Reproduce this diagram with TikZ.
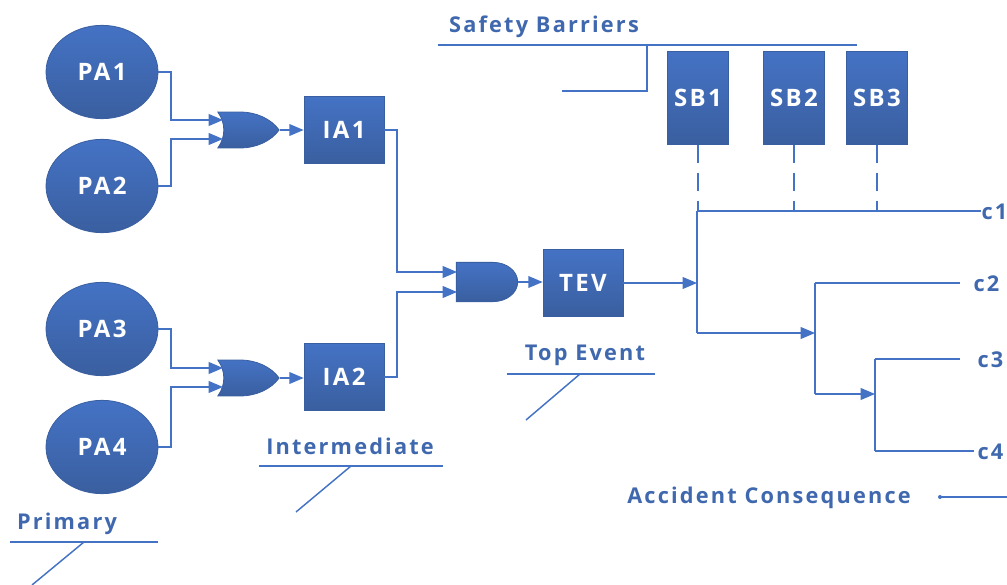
\documentclass[tikz,border=0pt]{standalone}
\usepackage{fontspec}
\setmainfont{Open Sans}[LetterSpace=10]
\usetikzlibrary{arrows,shapes.geometric,shapes.gates.logic.US}
\definecolor{linkblue}{HTML}{4472C4}
\definecolor{fillblue}{HTML}{3F6AB5}
\definecolor{darkblue}{HTML}{3A5FA0}
\definecolor{textblue}{HTML}{3F68AE}
\begin{document}
\begin{tikzpicture}[x=0.75pt,y=-0.75pt,>=triangle 45,thick,
    filled node/.style={draw=darkblue,line width=0.6pt,top color=linkblue,bottom color=darkblue,
      text=white,font=\fontsize{18}{20}\selectfont\bfseries,inner sep=0pt},
    event node/.style={filled node,ellipse,minimum width=84pt,minimum height=70pt},
    act node/.style={filled node,rectangle,minimum width=60pt,minimum height=50pt},
    barrier node/.style={filled node,rectangle,minimum width=46pt,minimum height=70pt},
    gate node/.style={filled node,logic gate inputs=nn,
      minimum height=30pt,minimum width=46pt,yscale=0.8,transform shape},
    link/.style={draw=linkblue,line width=1.5pt},
    arrow link/.style={link,->},
    note/.style={text=textblue,font=\fontsize{16.3}{18}\selectfont\bfseries,inner sep=0pt},
    end label/.style={note,anchor=west},
    thin link/.style={draw=linkblue,line width=1.1pt}]
  \useasboundingbox (0,0) rectangle (1007,585);
  % primary
  \node[event node] (pa1) at (102,72) {PA1};
  \node[event node] (pa2) at (102,186) {PA2};
  \node[event node] (pa3) at (102,329) {PA3};
  \node[event node] (pa4) at (102,447) {PA4};
  % gates and intermediate
  \node[gate node,or gate US] (or1) at (244,130) {};
  \node[gate node,or gate US] (or2) at (244,378) {};
  \node[act node] (ia1) at (344,130) {IA1};
  \node[act node] (ia2) at (344,377) {IA2};
  \node[gate node,and gate US] (and1) at (485,282) {};
  \node[act node] (tev) at (583,283) {TEV};
  \coordinate (or1a) at (223,120);
  \coordinate (or1b) at (223,139);
  \coordinate (or2a) at (223,368);
  \coordinate (or2b) at (223,387);
  \coordinate (and1a) at (457,272);
  \coordinate (and1b) at (457,292);
  % barriers
  \node[barrier node] (sb1) at (698,98) {SB1};
  \node[barrier node] (sb2) at (794,98) {SB2};
  \node[barrier node] (sb3) at (877,98) {SB3};
  % tree
  \coordinate (j0) at (697,283);
  \coordinate (j1) at (697,211);
  \coordinate (j2) at (697,333);
  \coordinate (k0) at (815,333);
  \coordinate (k1) at (815,283);
  \coordinate (k2) at (815,394);
  \coordinate (m0) at (875,394);
  \coordinate (m1) at (875,359);
  \coordinate (m2) at (875,451);
  \node[end label] (c1) at (981,212) {c1};
  \node[end label] (c2) at (973,284) {c2};
  \node[end label] (c3) at (977,360) {c3};
  \node[end label] (c4) at (977,452) {c4};
  \path[arrow link]
    (pa1.east) -- ++(13,0) |- (or1a);
  \path[arrow link]
    (pa2.east) -- ++(13,0) |- (or1b);
  \path[arrow link]
    (pa3.east) -- ++(13,0) |- (or2a);
  \path[arrow link]
    (pa4.east) -- ++(13,0) |- (or2b);
  \path[arrow link] (or1.output) -- (or1.output -| ia1.west);
  \path[arrow link] (or2.output) -- (or2.output -| ia2.west);
  \path[arrow link] (ia1.east) -- ++(13,0) |- (and1a);
  \path[arrow link] (ia2.east) -- ++(13,0) |- (and1b);
  \path[arrow link] (and1.output) -- (and1.output -| tev.west);
  \path[arrow link] (tev.east) -- (tev.east -| j0);
  \path[link] (j1) -- (j2);
  \path[link] (j1) -- (c1.west |- j1);
  \path[arrow link] (j2) -- (k0);
  \path[link] (k1) -- (k2);
  \path[link,shorten >=10pt] (k1) -- (c2.west |- k1);
  \path[arrow link] (k2) -- (m0);
  \path[link] (m1) -- (m2);
  \path[link,shorten >=13pt] (m1) -- (c3.west |- m1);
  \path[link,shorten >=2pt] (m2) -- (c4.west |- m2);
  \path[link,dash pattern=on 13.5pt off 7.5pt] (sb1.south) -- (sb1.south |- j1);
  \path[link,dash pattern=on 13.5pt off 7.5pt] (sb2.south) -- (sb2.south |- j1);
  \path[link,dash pattern=on 13.5pt off 7.5pt] (sb3.south) -- (sb3.south |- j1);
  % notes
  \node[note] (safety) at (544,27) {Safety Barriers};
  \coordinate (safetya) at (438,45);
  \coordinate (safetyb) at (857,45);
  \coordinate (safetyc) at (647,45);
  \coordinate (safetyd) at (562,91);
  \path[thin link] (safetya) -- (safetyb);
  \path[thin link] (safetyc) |- (safetyd);
  \node[note] (top) at (585,355) {Top Event};
  \coordinate (topa) at (507,374);
  \coordinate (topb) at (655,374);
  \coordinate (topc) at (580,374);
  \coordinate (topd) at (526,420);
  \path[thin link] (topa) -- (topb);
  \path[thin link] (topc) -- (topd);
  \node[note] (inter) at (350,446) {Intermediate};
  \coordinate (intera) at (259,466);
  \coordinate (interb) at (443,466);
  \coordinate (interc) at (351,466);
  \coordinate (interd) at (296,512);
  \path[thin link] (intera) -- (interb);
  \path[thin link] (interc) -- (interd);
  \node[note] (prim) at (67,524) {Primary};
  \coordinate (prima) at (10,542);
  \coordinate (primb) at (158,542);
  \coordinate (primc) at (84,542);
  \coordinate (primd) at (32,585);
  \path[thin link] (prima) -- (primb);
  \path[thin link] (primc) -- (primd);
  \node[note] (acc) at (769,498) {Accident Consequence};
  \coordinate (acca) at (940,497);
  \coordinate (accb) at (1007,497);
  \path[thin link] (acca) -- (accb);
  \fill[linkblue] (acca) circle (1.5pt);
\end{tikzpicture}
\end{document}
